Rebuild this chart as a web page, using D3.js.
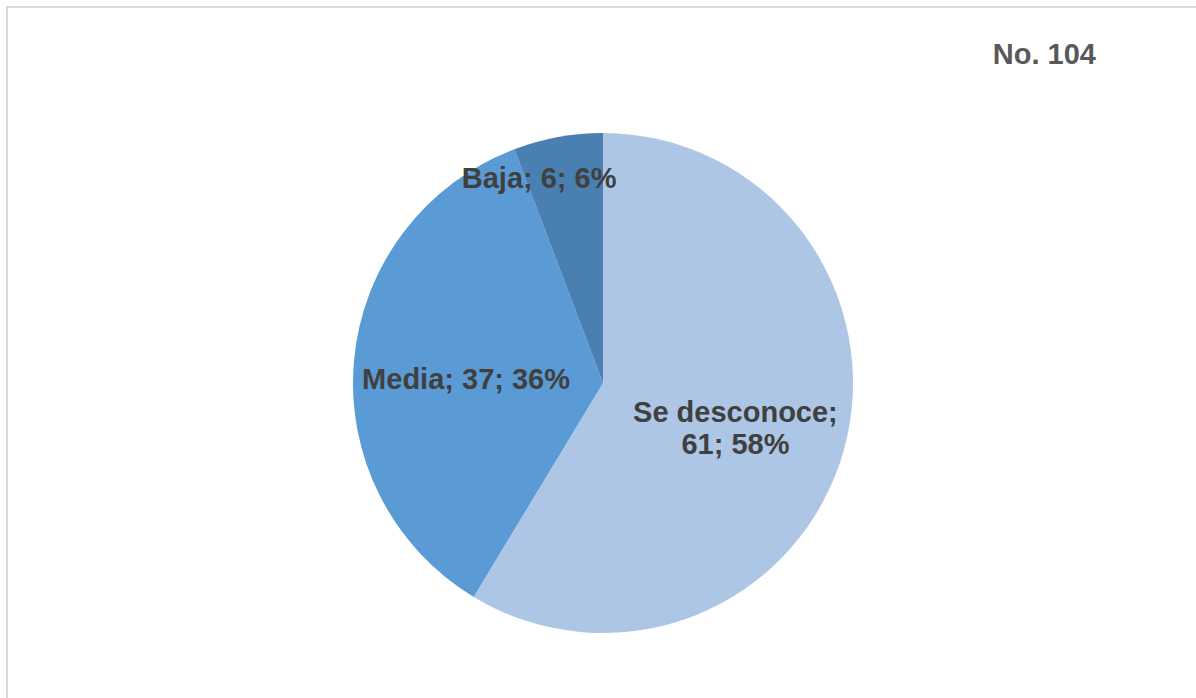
<!DOCTYPE html>
<html>
<head>
<meta charset="utf-8">
<title>No. 104</title>
<style>
  body { margin: 0; background: #fff; }
  svg { display: block; }
  .lbl { font-family: Arial, "Liberation Sans", sans-serif; font-weight: bold; fill: #404040; }
</style>
<script src="https://d3js.org/d3.v7.min.js"></script>
</head>
<body>
<script>
// data
var categories = ["Se desconoce", "Media", "Baja"];
var values = [61, 37, 6];
var percents = ["58%", "36%", "6%"];
var colors = ["#aec6e6", "#5b9bd5", "#4a7fb1"];
var title = "No. 104";

var width = 1196, height = 698;
var svg = d3.select("body").append("svg").attr("width", width).attr("height", height);

// chart frame (right/bottom edges fall outside the picture)
svg.append("path")
  .attr("d", "M7,698 V7 H1196")
  .attr("fill", "none")
  .attr("stroke", "#d9d9d9")
  .attr("stroke-width", 2);

svg.append("text")
  .attr("class", "lbl")
  .attr("x", 1096).attr("y", 64)
  .attr("text-anchor", "end")
  .style("font-size", "29px")
  .style("fill", "#595959")
  .text(title);

var cx = 603, cy = 383, radius = 250;
var g = svg.append("g").attr("transform", "translate(" + cx + "," + cy + ")");

var data = categories.map(function(c, i) { return { name: c, value: values[i], pct: percents[i], color: colors[i] }; });

var pie = d3.pie().sort(null).value(function(d) { return d.value; });
var arc = d3.arc().innerRadius(0).outerRadius(radius);

var arcs = pie(data);

g.selectAll("path.slice")
  .data(arcs)
  .enter().append("path")
  .attr("class", "slice")
  .attr("d", arc)
  .attr("fill", function(d) { return d.data.color; });

// labels: big slices inside around the middle, small slice near the rim
arcs.forEach(function(d) {
  var span = d.endAngle - d.startAngle;
  var mid = (d.startAngle + d.endAngle) / 2;
  var r = radius * 0.55;
  if (span < 0.6) { r = radius * 0.89; mid -= 0.11; }
  var x = r * Math.sin(mid), y = -r * Math.cos(mid);
  var lines = d.data.name.length > 10
    ? [d.data.name + ";", d.data.value + "; " + d.data.pct]
    : [d.data.name + "; " + d.data.value + "; " + d.data.pct];
  var lh = 32;
  var t = g.append("text")
    .attr("class", "lbl")
    .attr("text-anchor", "middle")
    .style("font-size", "29px");
  lines.forEach(function(s, k) {
    t.append("tspan")
      .attr("x", x)
      .attr("y", y + 8 + (k - (lines.length - 1) / 2) * lh)
      .attr("dy", "0.36em")
      .text(s);
  });
});
</script>
</body>
</html>
